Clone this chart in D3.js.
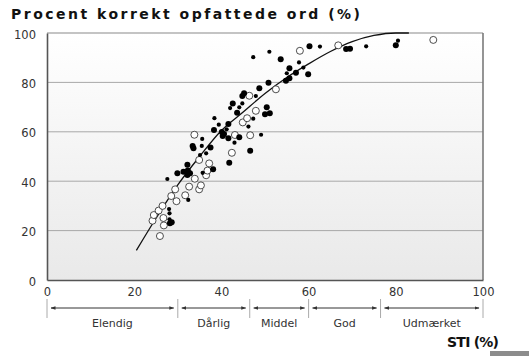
<!DOCTYPE html>
<html><head><meta charset="utf-8">
<script src="https://cdn.jsdelivr.net/npm/d3@7"></script>
<style>
html,body{margin:0;padding:0;background:#fff;}
svg{display:block;}
</style></head>
<body>
<script>
// ---- data ----
const title = "Procent korrekt opfattede ord (%)";
const xTitle = "STI (%)";
const xTicks = [0, 20, 40, 60, 80, 100];
const yTicks = [0, 20, 40, 60, 80, 100];
const gridValues = [20, 40, 60, 80];
const bandEdges = [0, 30, 46.5, 60, 76.5, 100];
const bandLabels = ["Elendig", "Dårlig", "Middel", "God", "Udmærket"];

// fitted curve (STI, % correct)
const curveSTI = [20.5, 25, 30, 35, 40, 45, 50, 55, 60, 65, 70, 75, 80, 83];
const curvePct = [12, 25, 38.5, 50, 60.5, 68, 75.5, 82, 87.5, 92.5, 96.5, 99, 100, 100];

// filled points (larger dots)
const filledBig = [
  [29.9,43.2],[31.3,43.8],[32.3,44.3],[32.8,43.2],[32.2,42.5],[32.2,46.7],
  [28.2,23.0],[28.6,23.4],[33.4,54.3],[33.6,53.3],[37.5,53.6],[38.3,60.7],
  [40.1,59.9],[40.6,59.1],[40.3,58.3],[41.6,63.2],[41.6,57.4],[44.1,57.8],
  [46.6,52.3],[38.1,44.8],[41.8,47.5],[42.6,71.5],[44.8,74.5],[45.2,75.6],
  [48.7,77.6],[50.8,79.9],[50.4,69.9],[50.0,67.1],[51.1,67.5],[43.6,67.7],
  [55.6,85.7],[57.1,83.9],[55.6,81.7],[54.8,80.7],[59.9,83.3],[53.6,89.4],
  [60.2,94.6],[68.6,93.5],[69.5,93.6],[80.0,95.0]
];
// filled points (smaller dots)
const filledSmall = [
  [27.6,40.9],[32.4,32.4],[28.0,28.7],[28.1,27.0],[28.1,24.6],[35.1,50.6],
  [36.5,51.3],[35.5,54.3],[35.6,57.1],[35.7,43.4],[38.4,65.5],[39.4,62.9],
  [41.2,61.0],[43.0,55.6],[46.2,62.1],[47.3,65.3],[49.1,58.8],[44.8,71.5],
  [42.0,69.6],[44.1,69.9],[47.9,74.5],[47.3,90.2],[51.0,92.4],[57.8,88.1],
  [58.8,86.0],[55.0,83.7],[62.6,94.5],[73.2,94.6],[80.5,96.9]
];
// open circles
const openPts = [
  [25.9,17.8],[26.8,22.1],[24.2,24.0],[26.7,25.1],[24.5,26.3],[25.6,28.1],
  [26.5,30.0],[29.7,31.9],[28.5,34.0],[31.7,34.3],[29.4,36.7],[34.9,36.7],
  [32.6,37.8],[35.3,38.3],[33.9,41.0],[36.5,42.4],[36.8,44.3],[37.2,47.2],
  [34.9,48.6],[42.4,51.5],[33.8,58.8],[43.1,58.7],[46.6,58.6],[44.9,63.8],
  [45.9,65.5],[47.9,68.5],[46.4,74.6],[52.5,77.2],[58.0,92.8],[66.8,95.0],
  [88.6,97.2]
];

// ---- drawing ----
const W = 529, H = 356;
const L = 47, R = 483, T = 33, B = 280;
const x = d3.scaleLinear().domain([0,100]).range([L,R]);
const y = d3.scaleLinear().domain([0,100]).range([B,T]);
const font = "'DejaVu Sans', Verdana, sans-serif";

const svg = d3.select("body").append("svg").attr("width",W).attr("height",H);
const defs = svg.append("defs");
const grad = defs.append("linearGradient").attr("id","bg").attr("x1",0).attr("y1",0).attr("x2",0).attr("y2",1);
grad.append("stop").attr("offset","0%").attr("stop-color","#ffffff");
grad.append("stop").attr("offset","100%").attr("stop-color","#e9e9e9");
const mk = defs.append("marker").attr("id","ah").attr("viewBox","0 0 10 10")
  .attr("refX",9).attr("refY",5).attr("markerWidth",5).attr("markerHeight",5)
  .attr("orient","auto-start-reverse");
mk.append("path").attr("d","M0,1.5 L10,5 L0,8.5 Z").attr("fill","#333");

// plot background
svg.append("rect").attr("x",L).attr("y",T).attr("width",R-L).attr("height",B-T)
  .attr("fill","url(#bg)");

// grid
svg.append("g").selectAll("line").data(gridValues).join("line")
  .attr("x1",L).attr("x2",R).attr("y1",d=>y(d)).attr("y2",d=>y(d))
  .attr("stroke","#a8a8a8").attr("stroke-width",1);

// frame
svg.append("line").attr("x1",L).attr("x2",R).attr("y1",T).attr("y2",T).attr("stroke","#8a8a8a").attr("stroke-width",1.2);
svg.append("line").attr("x1",R).attr("x2",R).attr("y1",T).attr("y2",B).attr("stroke","#7a7a7a").attr("stroke-width",1.6);

// axes
const xAxis = svg.append("g").attr("transform",`translate(0,${B})`)
  .call(d3.axisBottom(x).tickValues(xTicks).tickSize(0).tickPadding(8));
const yAxis = svg.append("g").attr("transform",`translate(${L},0)`)
  .call(d3.axisLeft(y).tickValues(yTicks).tickSize(0).tickPadding(11));
[xAxis,yAxis].forEach(g=>{
  g.select(".domain").attr("stroke","#555").attr("stroke-width",1.6);
  g.selectAll("text").attr("font-family",font).attr("font-size",11.5).attr("fill","#333");
});
yAxis.selectAll("text").attr("dy","0.45em");

// curve
const line = d3.line().x(d=>x(d[0])).y(d=>y(d[1])).curve(d3.curveMonotoneX);
svg.append("path").datum(curveSTI.map((s,i)=>[s,curvePct[i]]))
  .attr("d",line).attr("fill","none").attr("stroke","#111").attr("stroke-width",1.3);

// points
svg.append("g").selectAll("circle").data(openPts).join("circle")
  .attr("cx",d=>x(d[0])).attr("cy",d=>y(d[1])).attr("r",3.5)
  .attr("fill","#fff").attr("stroke","#222").attr("stroke-width",0.8);
svg.append("g").selectAll("circle").data(filledSmall).join("circle")
  .attr("cx",d=>x(d[0])).attr("cy",d=>y(d[1])).attr("r",2.1).attr("fill","#000");
svg.append("g").selectAll("circle").data(filledBig).join("circle")
  .attr("cx",d=>x(d[0])).attr("cy",d=>y(d[1])).attr("r",3).attr("fill","#000");

// category bands
const bandY = 308;
svg.append("g").selectAll("line").data(bandEdges).join("line")
  .attr("x1",d=>x(d)).attr("x2",d=>x(d)).attr("y1",299).attr("y2",318)
  .attr("stroke","#aaa").attr("stroke-width",1);
const segs = bandLabels.map((l,i)=>({l, a:bandEdges[i], b:bandEdges[i+1]}));
svg.append("g").selectAll("line").data(segs).join("line")
  .attr("x1",d=>x(d.a)+4).attr("x2",d=>x(d.b)-4).attr("y1",bandY).attr("y2",bandY)
  .attr("stroke","#333").attr("stroke-width",1)
  .attr("marker-start","url(#ah)").attr("marker-end","url(#ah)");
svg.append("g").selectAll("text").data(segs).join("text")
  .attr("x",d=>x((d.a+d.b)/2)).attr("y",327).attr("text-anchor","middle")
  .attr("font-family",font).attr("font-size",11).attr("fill","#333").text(d=>d.l);

// titles
svg.append("text").attr("x",11).attr("y",19).attr("font-family",font)
  .attr("font-weight","bold").attr("font-size",14).attr("fill","#111")
  .attr("textLength",349).attr("lengthAdjust","spacing").text(title);
svg.append("text").attr("x",447).attr("y",347).attr("font-family",font)
  .attr("font-weight","bold").attr("font-size",14).attr("fill","#111")
  .attr("textLength",52).attr("lengthAdjust","spacing").text(xTitle);

// grey corner block
svg.append("rect").attr("x",490).attr("y",351).attr("width",39).attr("height",5).attr("fill","#8c8c8c");
</script>
</body></html>
